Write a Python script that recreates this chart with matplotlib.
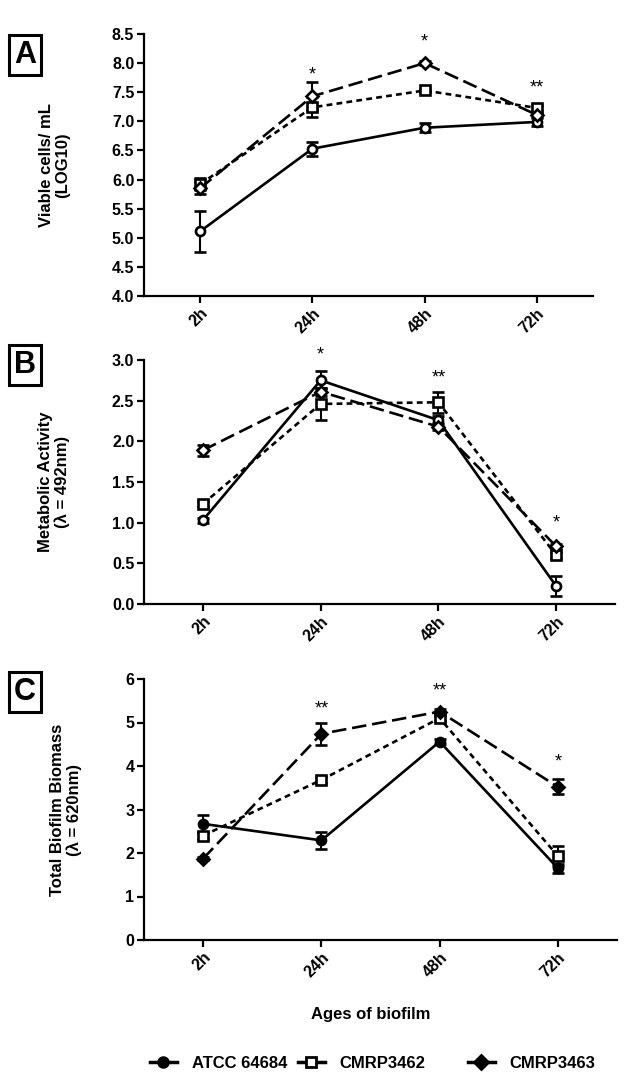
import matplotlib

matplotlib.use("Agg")
import matplotlib.pyplot as plt
from matplotlib.lines import Line2D

plt.rcParams["font.family"] = ["Liberation Sans", "DejaVu Sans"]
plt.rcParams["font.weight"] = "bold"

ages = ["2h", "24h", "48h", "72h"]
strains = ["ATCC 64684", "CMRP3462", "CMRP3463"]

# panel A - viable cells (log10)
viable_mean = {
    "ATCC 64684": [5.11, 6.53, 6.89, 6.99],
    "CMRP3462": [5.92, 7.24, 7.53, 7.23],
    "CMRP3463": [5.85, 7.43, 8.00, 7.11],
}
viable_err = {
    "ATCC 64684": [0.35, 0.12, 0.08, 0.07],
    "CMRP3462": [0.10, 0.17, 0.03, 0.05],
    "CMRP3463": [0.10, 0.24, 0.03, 0.03],
}
viable_stars = ["", "*", "*", "**"]
viable_star_y = [0, 7.80, 8.37, 7.57]

# panel B - metabolic activity
metab_mean = {
    "ATCC 64684": [1.03, 2.75, 2.26, 0.22],
    "CMRP3462": [1.23, 2.46, 2.48, 0.60],
    "CMRP3463": [1.89, 2.61, 2.18, 0.71],
}
metab_err = {
    "ATCC 64684": [0.03, 0.11, 0.05, 0.12],
    "CMRP3462": [0.04, 0.20, 0.13, 0.04],
    "CMRP3463": [0.07, 0.05, 0.04, 0.03],
}
metab_stars = ["", "*", "**", "*"]
metab_star_y = [0, 3.06, 2.78, 1.00]

# panel C - total biofilm biomass
biomass_mean = {
    "ATCC 64684": [2.67, 2.29, 4.56, 1.65],
    "CMRP3462": [2.40, 3.68, 5.10, 1.93],
    "CMRP3463": [1.87, 4.74, 5.25, 3.52],
}
biomass_err = {
    "ATCC 64684": [0.20, 0.20, 0.05, 0.10],
    "CMRP3462": [0.08, 0.06, 0.06, 0.24],
    "CMRP3463": [0.04, 0.25, 0.05, 0.17],
}
biomass_stars = ["", "**", "**", "*"]
biomass_star_y = [0, 5.30, 5.72, 4.10]

styles = {
    "ATCC 64684": dict(marker="o", linestyle="-"),
    "CMRP3462": dict(marker="s", linestyle=(0, (2.2, 1.6))),
    "CMRP3463": dict(marker="D", linestyle=(0, (5.5, 2.2))),
}

W, H = 627, 1083
fig = plt.figure(figsize=(W / 100, H / 100), dpi=100)
fig.patch.set_facecolor("white")


def axes_px(left, right, top, bottom):
    return fig.add_axes([left / W, 1 - bottom / H, (right - left) / W, (bottom - top) / H])


panels = [
    dict(box=(144, 593, 34, 296), mean=viable_mean, err=viable_err, stars=viable_stars,
         star_y=viable_star_y, ylim=(4.0, 8.5), yticks=[4.0, 4.5, 5.0, 5.5, 6.0, 6.5, 7.0, 7.5, 8.0, 8.5],
         fmt="{:.1f}", ylabel="Viable cells/ mL\n(LOG10)", labx=-0.165, letter="A", lety=55, face="white"),
    dict(box=(144, 615, 360, 604), mean=metab_mean, err=metab_err, stars=metab_stars,
         star_y=metab_star_y, ylim=(0.0, 3.0), yticks=[0.0, 0.5, 1.0, 1.5, 2.0, 2.5, 3.0],
         fmt="{:.1f}", ylabel="Metabolic Activity\n(\u03bb = 492nm)", labx=-0.157, letter="B", lety=365, face="white"),
    dict(box=(144, 617, 679, 940), mean=biomass_mean, err=biomass_err, stars=biomass_stars,
         star_y=biomass_star_y, ylim=(0, 6), yticks=[0, 1, 2, 3, 4, 5, 6],
         fmt="{:d}", ylabel="Total Biofilm Biomass\n(\u03bb = 620nm)", labx=-0.131, letter="C", lety=692, face="black"),
]

x = list(range(len(ages)))
for p in panels:
    ax = axes_px(*p["box"])
    for s in strains:
        st = styles[s]
        face = "white" if (p["face"] == "white" or s == "CMRP3462") else "black"
        ax.errorbar(x, p["mean"][s], yerr=p["err"][s], color="black", lw=1.9,
                    linestyle=st["linestyle"], marker=st["marker"], markersize=6.5 if st["marker"] != "D" else 6,
                    markerfacecolor=face, markeredgecolor="black", markeredgewidth=1.9,
                    capsize=4, elinewidth=1.5, capthick=1.5)
    for i, star in enumerate(p["stars"]):
        if star:
            ax.text(x[i], p["star_y"][i], star, ha="center", va="center", fontsize=13, fontweight="normal")
    ax.set_xlim(-0.5, 3.5)
    ax.set_ylim(*p["ylim"])
    ax.set_yticks(p["yticks"])
    ax.set_yticklabels([p["fmt"].format(v) for v in p["yticks"]], fontsize=11.5, fontweight="bold")
    ax.set_xticks(x)
    ax.set_xticklabels(ages, rotation=45, ha="right", rotation_mode="anchor", fontsize=11.5, fontweight="bold")
    for side in ("top", "right"):
        ax.spines[side].set_visible(False)
    for side in ("left", "bottom"):
        ax.spines[side].set_linewidth(1.6)
    ax.tick_params(width=1.6, length=5, pad=2)
    ax.set_ylabel(p["ylabel"], fontsize=12, fontweight="bold", linespacing=1.1)
    ax.yaxis.set_label_coords(p["labx"], 0.5)
    fig.text(25 / W, 1 - p["lety"] / H, p["letter"], fontsize=22, ha="center", va="center",
             fontweight="bold",
             bbox=dict(boxstyle="square,pad=0.15", facecolor="white", edgecolor="black", lw=2.2))

fig.text(371 / W, 1 - 1015 / H, "Ages of biofilm", fontsize=12, fontweight="bold", ha="center", va="center")

# legend entries are spaced unevenly in the original, so place each one separately
legend_x = [150, 298, 468]
for s, lx in zip(strains, legend_x):
    st = styles[s]
    face = "white" if s == "CMRP3462" else "black"
    h = Line2D([], [], color="black", lw=2.5, marker=st["marker"], markersize=7,
               markerfacecolor=face, markeredgecolor="black", markeredgewidth=2, linestyle="-")
    leg = fig.legend([h], [s], loc="center left", bbox_to_anchor=(lx / W, 1 - 1063 / H),
                     frameon=False, fontsize=12, handlelength=1.6, handletextpad=0.9,
                     borderpad=0, borderaxespad=0)
    for t in leg.get_texts():
        t.set_fontweight("bold")

fig.savefig("out.png", dpi=100, facecolor="white")
